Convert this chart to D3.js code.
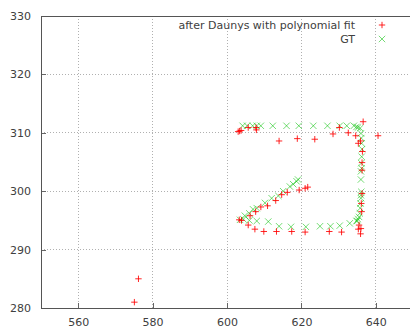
<!DOCTYPE html>
<html>
<head>
<meta charset="utf-8">
<script src="https://cdn.jsdelivr.net/npm/d3@7"></script>
<style>
  html, body { margin: 0; padding: 0; background: #fff; }
  svg { display: block; font-family: "DejaVu Sans", sans-serif; }
</style>
</head>
<body>
<svg id="chart" width="410" height="329"></svg>
<script>
// Axis ticks
const xTicks = [560, 580, 600, 620, 640];
const yTicks = [280, 290, 300, 310, 320, 330];

// Series labels
const seriesNames = ["after Daunys with polynomial fit", "GT"];

// Fitted gaze estimates (red +)
const fitX = [603.0, 603.4, 603.8, 605.7, 607.8, 607.9, 614.0, 618.9, 623.6, 628.5, 630.2, 632.6,
  634.6, 635.3, 635.9, 636.6, 640.6, 636.4, 636.3, 636.3, 636.3, 636.1, 636.2, 635.5, 636.0,
  635.3, 635.9, 603.3, 603.9, 605.7, 607.5, 609.9, 613.3, 617.4, 621.0, 627.5, 630.8,
  606.2, 607.7, 609.1, 610.9, 613.1, 614.7, 616.2, 619.4, 621.0, 621.7, 576.2, 575.1];
const fitY = [310.2, 310.3, 310.4, 310.9, 310.9, 310.5, 308.6, 309.0, 308.9, 309.8, 310.9, 310.0,
  309.5, 308.2, 308.6, 311.9, 309.5, 306.8, 304.9, 303.6, 299.6, 297.9, 296.5, 294.2, 293.6,
  293.5, 292.7, 295.1, 295.0, 294.2, 293.5, 293.1, 293.1, 293.1, 293.0, 293.1, 293.0,
  295.8, 296.5, 297.3, 297.5, 298.4, 299.4, 299.8, 300.2, 300.5, 300.7, 285.0, 281.0];

// Ground truth targets (green x)
const gtX = [604.2, 605.4, 606.9, 608.0, 609.1, 612.3, 616.0, 619.3, 623.2, 627.0, 630.3, 632.2,
  634.1, 634.8, 635.2,
  635.8, 636.0, 636.1, 636.2, 636.3, 636.2, 636.1, 636.2, 636.0, 636.0, 636.1, 636.0, 636.0,
  635.9, 635.8, 635.7, 635.5, 635.2, 635.0,
  603.5, 604.4, 606.0, 608.0, 611.1, 614.0, 617.2, 621.2, 625.0, 627.8, 630.3, 633.0, 634.8,
  604.8, 606.0, 607.0, 608.0, 610.2, 612.0, 613.8, 615.1, 616.9, 617.8, 618.7, 619.1];
const gtY = [311.2, 311.2, 311.2, 311.2, 311.2, 311.2, 311.2, 311.2, 311.2, 311.2, 311.2, 311.2,
  311.2, 311.0, 310.9,
  310.8, 309.9, 309.1, 308.2, 307.2, 305.9, 304.8, 303.9, 303.4, 302.0, 299.9, 299.3, 298.8,
  297.9, 297.1, 296.2, 295.6, 295.2, 294.9,
  295.1, 295.2, 295.0, 294.9, 294.8, 294.0, 293.9, 293.9, 294.0, 294.0, 294.1, 294.5, 294.9,
  295.8, 296.2, 296.9, 297.1, 298.0, 298.8, 299.2, 300.0, 300.8, 301.2, 301.7, 302.0];

const svg = d3.select("#chart");
const margin = { left: 41, top: 16, right: 413, bottom: 308 };

const x = d3.scaleLinear().domain([550, 650]).range([margin.left, margin.right]);
const y = d3.scaleLinear().domain([280, 330]).range([margin.bottom, margin.top]);

const textColor = "#404040";
const gridColor = "#b0b0b0";
const fontFamily = "'DejaVu Sans', sans-serif";

// Grid lines
const grid = svg.append("g");
grid.selectAll("line.vx").data(xTicks).join("line")
  .attr("x1", d => x(d)).attr("x2", d => x(d))
  .attr("y1", margin.bottom).attr("y2", margin.top)
  .attr("stroke", gridColor).attr("stroke-width", 1).attr("stroke-dasharray", "1,2")
  .attr("shape-rendering", "crispEdges");
grid.selectAll("line.hy").data(yTicks.filter(t => t > 280 && t < 330)).join("line")
  .attr("x1", margin.left).attr("x2", margin.right)
  .attr("y1", d => y(d)).attr("y2", d => y(d))
  .attr("stroke", gridColor).attr("stroke-width", 1).attr("stroke-dasharray", "1,2")
  .attr("shape-rendering", "crispEdges");

// Axes
const xAxis = d3.axisBottom(x).tickValues(xTicks).tickSize(-5).tickPadding(10);
const yAxis = d3.axisLeft(y).tickValues(yTicks).tickSize(-5).tickPadding(10);

const gx = svg.append("g").attr("transform", `translate(0,${margin.bottom})`).call(xAxis);
const gy = svg.append("g").attr("transform", `translate(${margin.left},0)`).call(yAxis);
[gx, gy].forEach(g => {
  g.select(".domain").remove();
  g.selectAll(".tick line").attr("stroke", "#666").attr("shape-rendering", "crispEdges");
  g.selectAll(".tick text").attr("fill", textColor).attr("font-size", 11)
    .attr("font-family", fontFamily);
});

// Frame: left, bottom, top
svg.append("path")
  .attr("d", `M${margin.right},${margin.top}H${margin.left}V${margin.bottom}H${margin.right}`)
  .attr("fill", "none").attr("stroke", "#555").attr("stroke-width", 1)
  .attr("shape-rendering", "crispEdges");

// Markers
const s = 3.2;
const plus = (cx, cy) => `M${cx - s},${cy}H${cx + s}M${cx},${cy - s}V${cy + s}`;
const cross = (cx, cy) => `M${cx - s},${cy - s}L${cx + s},${cy + s}M${cx - s},${cy + s}L${cx + s},${cy - s}`;

const gtData = gtX.map((v, i) => [v, gtY[i]]);
const fitData = fitX.map((v, i) => [v, fitY[i]]);

svg.append("g").selectAll("path").data(gtData).join("path")
  .attr("d", d => cross(x(d[0]), y(d[1])))
  .attr("stroke", "#00c000").attr("stroke-opacity", 0.55).attr("stroke-width", 1).attr("fill", "none");

svg.append("g").selectAll("path").data(fitData).join("path")
  .attr("d", d => plus(x(d[0]), y(d[1])))
  .attr("stroke", "#ff0000").attr("stroke-opacity", 0.85).attr("stroke-width", 1).attr("fill", "none");

// Legend
const legend = svg.append("g");
seriesNames.forEach((name, i) => {
  const ly = 25 + i * 14;
  legend.append("text")
    .attr("x", 355).attr("y", ly).attr("dy", "0.35em")
    .attr("text-anchor", "end").attr("fill", textColor).attr("font-size", 11)
    .attr("font-family", fontFamily)
    .text(name);
  legend.append("path")
    .attr("d", i === 0 ? plus(382, ly) : cross(382, ly))
    .attr("stroke", i === 0 ? "#ff0000" : "#00c000")
    .attr("stroke-opacity", i === 0 ? 0.85 : 0.55)
    .attr("fill", "none");
});
</script>
</body>
</html>
